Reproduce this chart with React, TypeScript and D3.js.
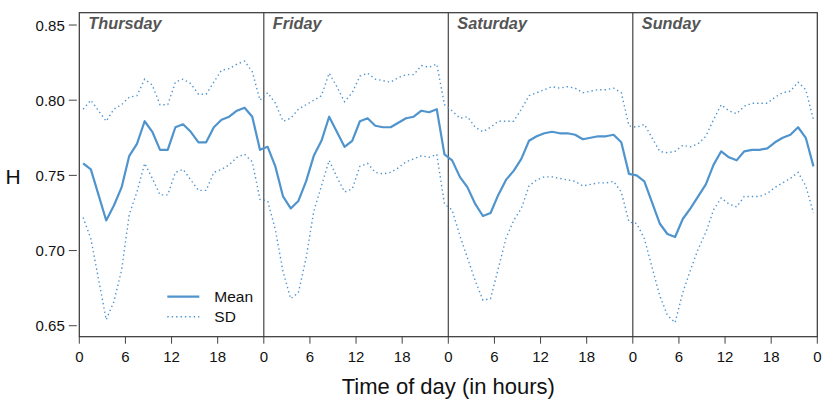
import { line, scaleLinear } from "d3";

const WIDTH = 830;
const HEIGHT = 417;
const MARGIN = { top: 12.7, left: 79.3, bottom: 80.3, right: 12.7 };

const FONT = "'Liberation Sans', Arial, Helvetica, sans-serif";
const BLUE = "#4F94CD";

const days = ["Thursday", "Friday", "Saturday", "Sunday"];
const xTickHours = [0, 6, 12, 18];
const yTicks = [0.65, 0.7, 0.75, 0.8, 0.85];

// hourly mean of H (value at the middle of each hour)
const thursdayMean = [0.758, 0.754, 0.737, 0.72, 0.73, 0.742, 0.763, 0.771, 0.786, 0.779, 0.767, 0.767, 0.782, 0.784, 0.779, 0.772, 0.772, 0.782, 0.787, 0.789, 0.793, 0.795, 0.789, 0.767];
const fridayMean = [0.769, 0.756, 0.736, 0.728, 0.733, 0.746, 0.763, 0.773, 0.789, 0.779, 0.769, 0.773, 0.786, 0.788, 0.783, 0.782, 0.782, 0.785, 0.788, 0.789, 0.793, 0.792, 0.794, 0.764];
const saturdayMean = [0.76, 0.749, 0.742, 0.731, 0.723, 0.725, 0.737, 0.747, 0.753, 0.761, 0.773, 0.776, 0.778, 0.779, 0.778, 0.778, 0.777, 0.774, 0.775, 0.776, 0.776, 0.777, 0.772, 0.751];
const sundayMean = [0.75, 0.746, 0.732, 0.718, 0.711, 0.709, 0.721, 0.728, 0.736, 0.744, 0.757, 0.766, 0.762, 0.76, 0.766, 0.767, 0.767, 0.768, 0.772, 0.775, 0.777, 0.782, 0.775, 0.756];

// hourly standard deviation
const thursdaySd = [0.036, 0.046, 0.056, 0.066, 0.064, 0.055, 0.039, 0.032, 0.028, 0.031, 0.03, 0.03, 0.03, 0.03, 0.032, 0.032, 0.032, 0.03, 0.033, 0.032, 0.031, 0.031, 0.03, 0.033];
const fridaySd = [0.036, 0.042, 0.05, 0.06, 0.061, 0.051, 0.037, 0.03, 0.029, 0.03, 0.03, 0.032, 0.03, 0.03, 0.031, 0.031, 0.03, 0.03, 0.029, 0.028, 0.03, 0.03, 0.03, 0.033];
const saturdaySd = [0.033, 0.039, 0.047, 0.051, 0.056, 0.057, 0.049, 0.039, 0.033, 0.033, 0.03, 0.029, 0.029, 0.03, 0.03, 0.031, 0.031, 0.031, 0.031, 0.031, 0.031, 0.031, 0.033, 0.032];
const sundaySd = [0.032, 0.038, 0.043, 0.048, 0.054, 0.057, 0.049, 0.041, 0.035, 0.032, 0.03, 0.031, 0.031, 0.031, 0.03, 0.031, 0.031, 0.03, 0.03, 0.03, 0.029, 0.03, 0.032, 0.031];

const meanByDay = [thursdayMean, fridayMean, saturdayMean, sundayMean];
const sdByDay = [thursdaySd, fridaySd, saturdaySd, sundaySd];

type Point = { t: number; mean: number; sd: number };

function App() {
  const boundsWidth = WIDTH - MARGIN.left - MARGIN.right;
  const boundsHeight = HEIGHT - MARGIN.top - MARGIN.bottom;

  const points: Point[] = [];
  meanByDay.forEach((values, d) => {
    values.forEach((v, h) => {
      points.push({ t: d * 24 + h + 0.5, mean: v, sd: sdByDay[d][h] });
    });
  });

  const xScale = scaleLinear().domain([0, days.length * 24]).range([0, boundsWidth]);
  const yScale = scaleLinear().domain([0.6427, 0.8582]).range([boundsHeight, 0]);

  const meanLine = line<Point>()
    .x((p) => xScale(p.t))
    .y((p) => yScale(p.mean));
  const upperLine = line<Point>()
    .x((p) => xScale(p.t))
    .y((p) => yScale(p.mean + p.sd));
  const lowerLine = line<Point>()
    .x((p) => xScale(p.t))
    .y((p) => yScale(p.mean - p.sd));

  const xTicks: { t: number; label: number }[] = [];
  days.forEach((_, d) => xTickHours.forEach((h) => xTicks.push({ t: d * 24 + h, label: h })));
  xTicks.push({ t: days.length * 24, label: 0 });

  return (
    <svg
      width={WIDTH}
      height={HEIGHT}
      style={{ position: "absolute", left: 0, top: 0, background: "#fff" }}
      fontFamily={FONT}
    >
      <g transform={`translate(${MARGIN.left},${MARGIN.top})`}>
        {/* y axis */}
        {yTicks.map((v) => (
          <g key={v}>
            <line x1={-10.5} x2={-2.5} y1={yScale(v)} y2={yScale(v)} stroke="#444" strokeWidth={1} />
            <text x={-14.5} y={yScale(v)} textAnchor="end" dominantBaseline="central" fontSize={15} fill="#111">
              {v.toFixed(2)}
            </text>
          </g>
        ))}

        {/* x axis */}
        {xTicks.map((tk, i) => (
          <g key={i}>
            <line
              x1={xScale(tk.t)}
              x2={xScale(tk.t)}
              y1={boundsHeight}
              y2={boundsHeight + 7}
              stroke="#444"
              strokeWidth={1}
            />
            <text x={xScale(tk.t)} y={boundsHeight + 25} textAnchor="middle" fontSize={15} fill="#111">
              {tk.label}
            </text>
          </g>
        ))}

        {/* day panels */}
        {days.map((day, d) => (
          <g key={day}>
            {d > 0 && (
              <line
                x1={xScale(d * 24)}
                x2={xScale(d * 24)}
                y1={0}
                y2={boundsHeight}
                stroke="#444"
                strokeWidth={1.2}
              />
            )}
            <text
              x={xScale(d * 24) + 9}
              y={16.6}
              fontSize={16.3}
              fontWeight="bold"
              fontStyle="italic"
              fill="#555"
            >
              {day}
            </text>
          </g>
        ))}

        <path d={upperLine(points) ?? ""} fill="none" stroke={BLUE} strokeWidth={1.4} strokeDasharray="1.4 3" />
        <path d={lowerLine(points) ?? ""} fill="none" stroke={BLUE} strokeWidth={1.4} strokeDasharray="1.4 3" />
        <path d={meanLine(points) ?? ""} fill="none" stroke={BLUE} strokeWidth={2.2} strokeLinejoin="round" />

        <rect x={0} y={0} width={boundsWidth} height={boundsHeight} fill="none" stroke="#333" strokeWidth={1.2} />

        {/* legend */}
        <g transform={`translate(88,284)`}>
          <line x1={0} x2={32} y1={0} y2={0} stroke={BLUE} strokeWidth={2.2} />
          <text x={47} y={0} dominantBaseline="central" fontSize={15.5} fill="#111">
            Mean
          </text>
          <line x1={0} x2={32} y1={20} y2={20} stroke={BLUE} strokeWidth={1.4} strokeDasharray="1.4 3" />
          <text x={47} y={20} dominantBaseline="central" fontSize={15.5} fill="#111">
            SD
          </text>
        </g>
      </g>

      <text x={13} y={184} textAnchor="middle" fontSize={21} fill="#111">
        H
      </text>
      <text x={MARGIN.left + boundsWidth / 2} y={394} textAnchor="middle" fontSize={22} fill="#111">
        Time of day (in hours)
      </text>
    </svg>
  );
}

export default App;
